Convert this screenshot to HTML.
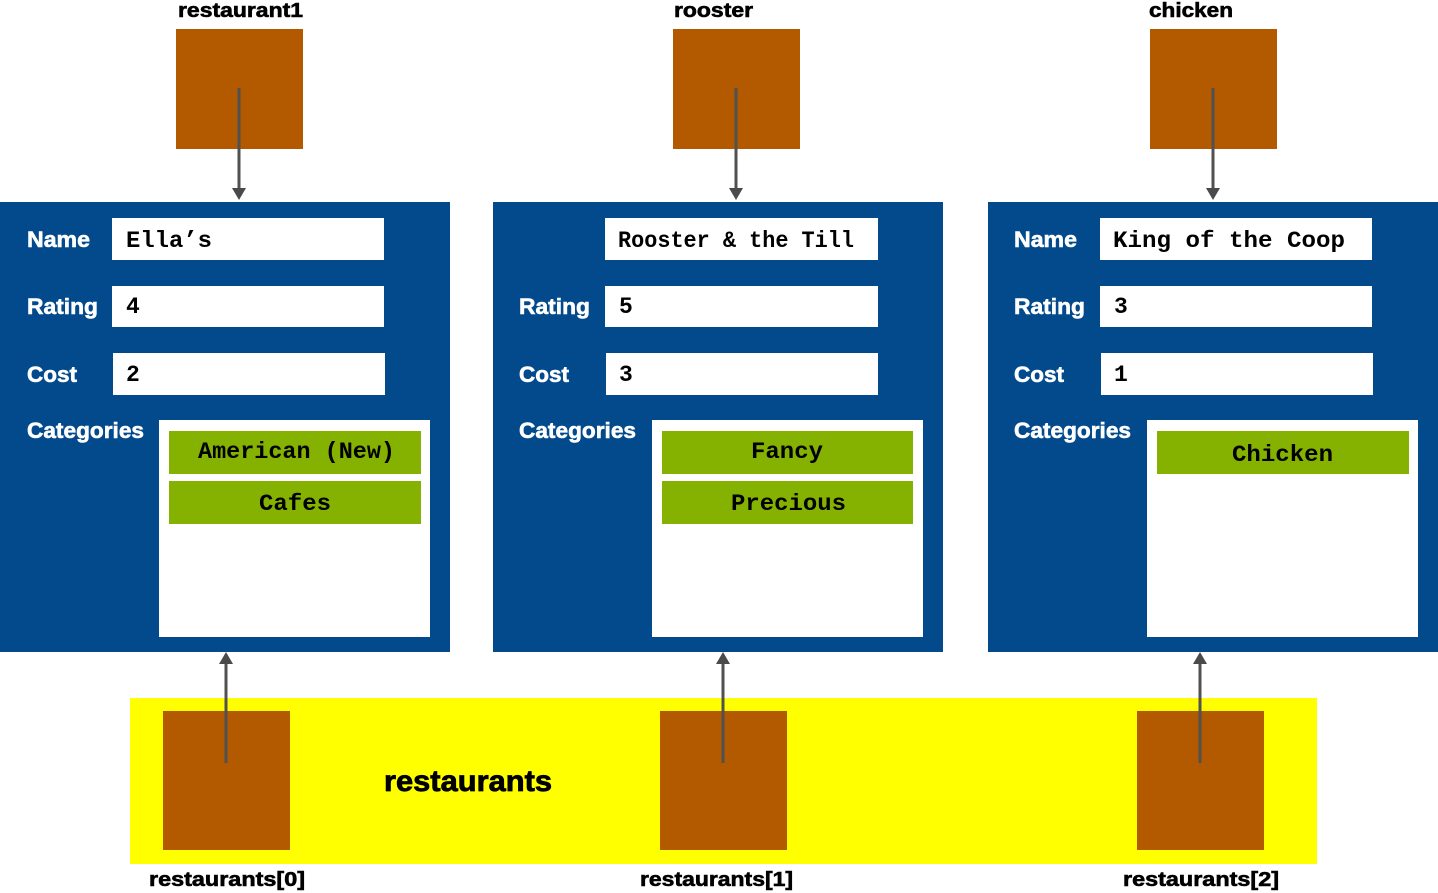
<!DOCTYPE html>
<html>
<head>
<meta charset="utf-8">
<style>
  html,body{margin:0;padding:0;background:#fff;}
  svg{display:block;}
  .lbl{font-family:"Liberation Sans",Arial,sans-serif;font-weight:bold;font-size:22.5px;fill:#fff;stroke:#fff;stroke-width:0.6px;}
  .var{font-family:"Liberation Sans",Arial,sans-serif;font-weight:bold;font-size:20px;fill:#000;stroke:#000;stroke-width:0.6px;}
  .mono{font-family:"Liberation Mono","Courier New",monospace;font-weight:bold;font-size:23px;fill:#000;}
</style>
</head>
<body>
<svg width="1438" height="893" viewBox="0 0 1438 893" xmlns="http://www.w3.org/2000/svg">
  <rect x="0" y="0" width="1438" height="893" fill="#fff"/>

  <!-- top variable labels -->
  <text class="var" x="178" y="17" textLength="125" lengthAdjust="spacingAndGlyphs">restaurant1</text>
  <text class="var" x="674" y="17" textLength="79" lengthAdjust="spacingAndGlyphs">rooster</text>
  <text class="var" x="1149" y="17" textLength="84" lengthAdjust="spacingAndGlyphs">chicken</text>

  <!-- top boxes -->
  <rect x="176" y="29" width="127" height="120" fill="#b35900"/>
  <rect x="673" y="29" width="127" height="120" fill="#b35900"/>
  <rect x="1150" y="29" width="127" height="120" fill="#b35900"/>

  <!-- panels -->
  <rect x="0" y="202" width="450" height="450" fill="#034a8c"/>
  <rect x="493" y="202" width="450" height="450" fill="#034a8c"/>
  <rect x="988" y="202" width="450" height="450" fill="#034a8c"/>

  <!-- Panel 1 -->
  <text class="lbl" x="27" y="247" textLength="63" lengthAdjust="spacingAndGlyphs">Name</text>
  <text class="lbl" x="27" y="314" textLength="71" lengthAdjust="spacingAndGlyphs">Rating</text>
  <text class="lbl" x="27" y="382" textLength="50" lengthAdjust="spacingAndGlyphs">Cost</text>
  <text class="lbl" x="27" y="438" textLength="117" lengthAdjust="spacingAndGlyphs">Categories</text>
  <rect x="112" y="218" width="272" height="42" fill="#fff"/>
  <rect x="112" y="286" width="272" height="41" fill="#fff"/>
  <rect x="113" y="353" width="272" height="42" fill="#fff"/>
  <text class="mono" x="126" y="247" textLength="86" lengthAdjust="spacingAndGlyphs">Ella’s</text>
  <text class="mono" x="126" y="313">4</text>
  <text class="mono" x="126" y="381">2</text>
  <rect x="159" y="420" width="271" height="217" fill="#fff"/>
  <rect x="169" y="431" width="252" height="43" fill="#85b200"/>
  <rect x="169" y="481" width="252" height="43" fill="#85b200"/>
  <text class="mono" x="296.5" y="458" text-anchor="middle" textLength="197" lengthAdjust="spacingAndGlyphs">American (New)</text>
  <text class="mono" x="295" y="510" text-anchor="middle" textLength="72" lengthAdjust="spacingAndGlyphs">Cafes</text>

  <!-- Panel 2 -->
  <text class="lbl" x="519" y="314" textLength="71" lengthAdjust="spacingAndGlyphs">Rating</text>
  <text class="lbl" x="519" y="382" textLength="50" lengthAdjust="spacingAndGlyphs">Cost</text>
  <text class="lbl" x="519" y="438" textLength="117" lengthAdjust="spacingAndGlyphs">Categories</text>
  <rect x="605" y="218" width="273" height="42" fill="#fff"/>
  <rect x="605" y="286" width="273" height="41" fill="#fff"/>
  <rect x="606" y="353" width="272" height="42" fill="#fff"/>
  <text class="mono" x="618" y="247" textLength="236" lengthAdjust="spacingAndGlyphs">Rooster &amp; the Till</text>
  <text class="mono" x="619" y="313">5</text>
  <text class="mono" x="619" y="381">3</text>
  <rect x="652" y="420" width="271" height="217" fill="#fff"/>
  <rect x="662" y="431" width="251" height="43" fill="#85b200"/>
  <rect x="662" y="481" width="251" height="43" fill="#85b200"/>
  <text class="mono" x="787" y="458" text-anchor="middle" textLength="72" lengthAdjust="spacingAndGlyphs">Fancy</text>
  <text class="mono" x="788.5" y="510" text-anchor="middle" textLength="115" lengthAdjust="spacingAndGlyphs">Precious</text>

  <!-- Panel 3 -->
  <text class="lbl" x="1014" y="247" textLength="63" lengthAdjust="spacingAndGlyphs">Name</text>
  <text class="lbl" x="1014" y="314" textLength="71" lengthAdjust="spacingAndGlyphs">Rating</text>
  <text class="lbl" x="1014" y="382" textLength="50" lengthAdjust="spacingAndGlyphs">Cost</text>
  <text class="lbl" x="1014" y="438" textLength="117" lengthAdjust="spacingAndGlyphs">Categories</text>
  <rect x="1100" y="218" width="272" height="42" fill="#fff"/>
  <rect x="1100" y="286" width="272" height="41" fill="#fff"/>
  <rect x="1101" y="353" width="272" height="42" fill="#fff"/>
  <text class="mono" x="1113" y="247" textLength="232" lengthAdjust="spacingAndGlyphs">King of the Coop</text>
  <text class="mono" x="1114" y="313">3</text>
  <text class="mono" x="1114" y="381">1</text>
  <rect x="1147" y="420" width="271" height="217" fill="#fff"/>
  <rect x="1157" y="431" width="252" height="43" fill="#85b200"/>
  <text class="mono" x="1282.5" y="461" text-anchor="middle" textLength="101" lengthAdjust="spacingAndGlyphs">Chicken</text>

  <!-- bottom yellow array -->
  <rect x="130" y="698" width="1187" height="166" fill="#ffff00"/>
  <rect x="163" y="711" width="127" height="139" fill="#b35900"/>
  <rect x="660" y="711" width="127" height="139" fill="#b35900"/>
  <rect x="1137" y="711" width="127" height="139" fill="#b35900"/>
  <text x="384" y="791" font-family="'Liberation Sans',Arial,sans-serif" font-weight="bold" font-size="30" fill="#000" stroke="#000" stroke-width="0.8" textLength="168" lengthAdjust="spacingAndGlyphs">restaurants</text>

  <!-- bottom labels -->
  <text class="var" x="149" y="886" textLength="156" lengthAdjust="spacingAndGlyphs">restaurants[0]</text>
  <text class="var" x="640" y="886" textLength="153" lengthAdjust="spacingAndGlyphs">restaurants[1]</text>
  <text class="var" x="1123" y="886" textLength="156" lengthAdjust="spacingAndGlyphs">restaurants[2]</text>

  <!-- arrows -->
  <g stroke="#515151" stroke-width="3" fill="none">
    <line x1="239" y1="88" x2="239" y2="189"/>
    <line x1="736" y1="88" x2="736" y2="189"/>
    <line x1="1213" y1="88" x2="1213" y2="189"/>
    <line x1="226" y1="763" x2="226" y2="663"/>
    <line x1="723" y1="763" x2="723" y2="663"/>
    <line x1="1200" y1="763" x2="1200" y2="663"/>
  </g>
  <g fill="#4a4a4a">
    <polygon points="232,188 246,188 239,200"/>
    <polygon points="729,188 743,188 736,200"/>
    <polygon points="1206,188 1220,188 1213,200"/>
    <polygon points="219,664 233,664 226,652"/>
    <polygon points="716,664 730,664 723,652"/>
    <polygon points="1193,664 1207,664 1200,652"/>
  </g>
</svg>
</body>
</html>
